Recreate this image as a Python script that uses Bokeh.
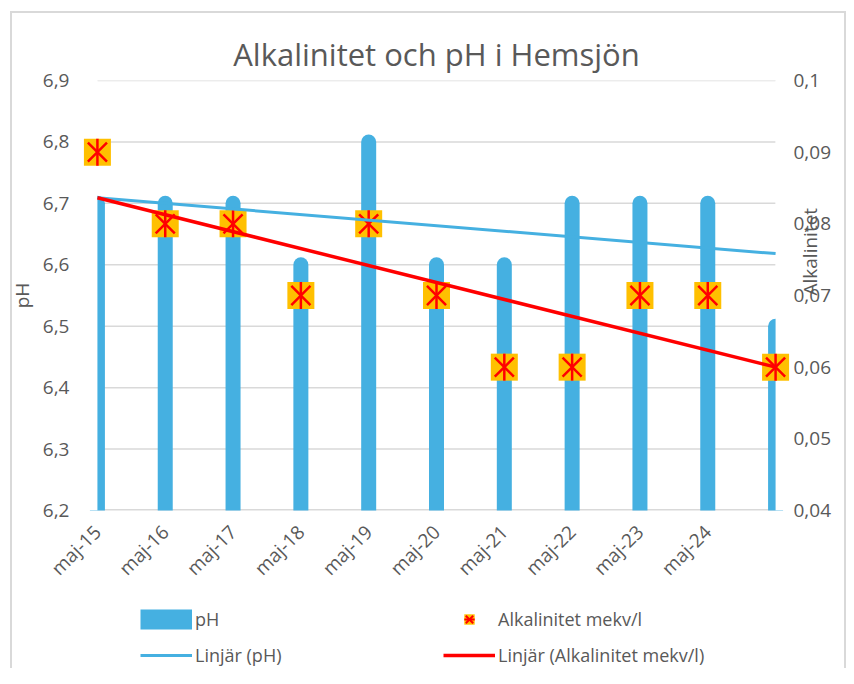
import math
import numpy as np
from bokeh.plotting import figure
from bokeh.layouts import column
from bokeh.models import (Range1d, LinearAxis, FixedTicker, Legend, LegendItem)
from bokeh.embed import file_html
from bokeh.resources import INLINE

# ---- data ----
dates = ["maj-15", "maj-16", "maj-17", "maj-18", "maj-19", "maj-20",
         "maj-21", "maj-22", "maj-23", "maj-24", "maj-25"]
ph = [6.7, 6.7, 6.7, 6.6, 6.8, 6.6, 6.6, 6.7, 6.7, 6.7, 6.5]
alk = [0.09, 0.08, 0.08, 0.07, 0.08, 0.07, 0.06, 0.06, 0.07, 0.07, 0.06]
ph_ticks = [6.2, 6.3, 6.4, 6.5, 6.6, 6.7, 6.8, 6.9]
alk_ticks = [0.04, 0.05, 0.06, 0.07, 0.08, 0.09, 0.1]
x_labels = dates[:-1]

FONT = "Open Sans"
GRAY = "#595959"
GRID = "#d9d9d9"
BLUE = "#45B0E1"
GOLD = "#FFC000"
RED = "#FF0000"
PAD = 0.22  # room so the end markers are not cut

xs = list(range(len(dates)))
x0, x1 = xs[0] - PAD, xs[-1] + PAD
y0, y1 = ph_ticks[0], ph_ticks[-1]

p = figure(width=846, height=592, x_range=Range1d(x0, x1),
           y_range=Range1d(y0, y1),
           output_backend="svg", toolbar_location=None,
           min_border_left=82, min_border_right=56,
           min_border_top=80, min_border_bottom=74)
p.extra_y_ranges = {"alk": Range1d(alk_ticks[0], alk_ticks[-1])}
p.outline_line_color = None
p.background_fill_color = "white"
p.border_fill_color = None

p.xgrid.visible = False
p.ygrid.visible = False

p.title.text = "Alkalinitet och pH i Hemsjön"
p.title.align = "center"
p.title.text_font = FONT
p.title.text_font_size = "31px"
p.title.text_font_style = "normal"
p.title.text_color = GRAY
p.title.standoff = 12

def fmt(t):
    return f"{t:g}".replace(".", ",")

ya = p.yaxis[0]
ya.ticker = FixedTicker(ticks=ph_ticks)
ya.major_label_overrides = {t: fmt(t) for t in ph_ticks}
ya.axis_line_color = None
ya.major_tick_line_color = None
ya.minor_tick_line_color = None
ya.major_label_standoff = 7
ya.major_label_text_font = FONT
ya.major_label_text_font_size = "19px"
ya.major_label_text_color = GRAY
ya.axis_label = "pH"
ya.axis_label_text_font = FONT
ya.axis_label_text_font_size = "19px"
ya.axis_label_text_font_style = "normal"
ya.axis_label_text_color = GRAY
ya.axis_label_standoff = 5

xa = p.xaxis[0]
xa.ticker = FixedTicker(ticks=xs[:-1])
xa.major_label_overrides = {i: lab for i, lab in enumerate(x_labels)}
xa.major_label_orientation = math.pi / 4
xa.axis_line_color = None
xa.major_tick_line_color = None
xa.minor_tick_line_color = None
xa.major_label_standoff = 12
xa.major_label_text_font = FONT
xa.major_label_text_font_size = "19px"
xa.major_label_text_color = GRAY

ra = LinearAxis(y_range_name="alk", ticker=FixedTicker(ticks=alk_ticks))
ra.major_label_overrides = {t: fmt(t) for t in alk_ticks}
ra.axis_line_color = None
ra.major_tick_line_color = None
ra.minor_tick_line_color = None
ra.major_label_standoff = -3
ra.major_label_text_font = FONT
ra.major_label_text_font_size = "19px"
ra.major_label_text_color = GRAY
ra.axis_label = "Alkalinitet"
ra.axis_label_orientation = math.pi / 2
ra.axis_label_standoff = -24
ra.axis_label_text_align = "center"
ra.axis_label_text_font = FONT
ra.axis_label_text_font_size = "19px"
ra.axis_label_text_font_style = "normal"
ra.axis_label_text_color = GRAY
p.add_layout(ra, "right")

# horizontal gridlines between first and last date
n_t = len(ph_ticks)
p.segment(x0=[xs[0]] * n_t, y0=ph_ticks, x1=[xs[-1]] * n_t, y1=ph_ticks,
          line_color=GRID, line_width=[3] + [1.5] * (n_t - 1))

# pH bars
p.segment(x0=xs, y0=[y0] * len(xs), x1=xs, y1=ph,
          line_width=15, line_color=BLUE, line_cap="round")
# hide the bar halves outside the first/last date
p.quad(left=[x0, xs[-1]], right=[xs[0], x1], bottom=[y0, y0], top=[y1, y1],
       fill_color="white", line_color=None)

# alkalinity markers
p.scatter(xs, alk, marker="square", size=27, fill_color=GOLD,
          line_color=None, y_range_name="alk")
p.scatter(xs, alk, marker="x", size=27, line_color=RED,
          line_width=2.5, y_range_name="alk")
p.scatter(xs, alk, marker="dash", angle=math.pi / 2, size=27,
          line_color=RED, line_width=2.5, y_range_name="alk")

# trend lines
ends = [xs[0], xs[-1]]
ph_fit = np.polyval(np.polyfit(xs, ph, 1), ends)
alk_fit = np.polyval(np.polyfit(xs, alk, 1), ends)
p.line(ends, ph_fit, line_width=3, line_color=BLUE)
p.line(ends, alk_fit, line_width=3.5, line_color=RED, y_range_name="alk")

# ---- legend strip below the chart ----
lg = figure(width=846, height=76, x_range=Range1d(0, 1), y_range=Range1d(0, 1),
            output_backend="svg", toolbar_location=None,
            x_axis_location=None, y_axis_location=None,
            min_border_left=0, min_border_right=0,
            min_border_top=0, min_border_bottom=0)
lg.grid.visible = False
lg.outline_line_color = None
lg.background_fill_color = None
lg.border_fill_color = None

nan = [np.nan]
l_ph = lg.line(nan, nan, line_width=20, line_color=BLUE)
l_sq = lg.scatter(nan, nan, marker="square", fill_color=GOLD, line_color=None)
l_x = lg.scatter(nan, nan, marker="x", line_color=RED, line_width=2)
l_d = lg.scatter(nan, nan, marker="dash", angle=math.pi / 2,
                 line_color=RED, line_width=2)
l_tph = lg.line(nan, nan, line_width=3, line_color=BLUE)
l_talk = lg.line(nan, nan, line_width=3.5, line_color=RED)

legend = Legend(items=[
    LegendItem(label="pH", renderers=[l_ph]),
    LegendItem(label="Linjär (pH)", renderers=[l_tph]),
    LegendItem(label="Alkalinitet mekv/l", renderers=[l_sq, l_x, l_d]),
    LegendItem(label="Linjär (Alkalinitet mekv/l)", renderers=[l_talk]),
], location=(58, 0), ncols=2, orientation="vertical",
    glyph_width=52, glyph_height=26, label_standoff=3, label_width=238,
    spacing=10, padding=0, margin=0, border_line_color=None,
    background_fill_alpha=0, label_text_font=FONT,
    label_text_font_size="18px", label_text_color=GRAY, label_height=26)
lg.add_layout(legend)

layout = column(p, lg, spacing=0)
layout.styles = {
    "background-color": "white",
    "background-image": ("linear-gradient(#d9d9d9,#d9d9d9),"
                         "linear-gradient(#d9d9d9,#d9d9d9),"
                         "linear-gradient(#d9d9d9,#d9d9d9)"),
    "background-size": "2px 100%, 100% 2px, 2px 100%",
    "background-position": "10px 11px, 10px 11px, 844px 11px",
    "background-repeat": "no-repeat",
}

open("out.html", "w").write(file_html(layout, INLINE))
